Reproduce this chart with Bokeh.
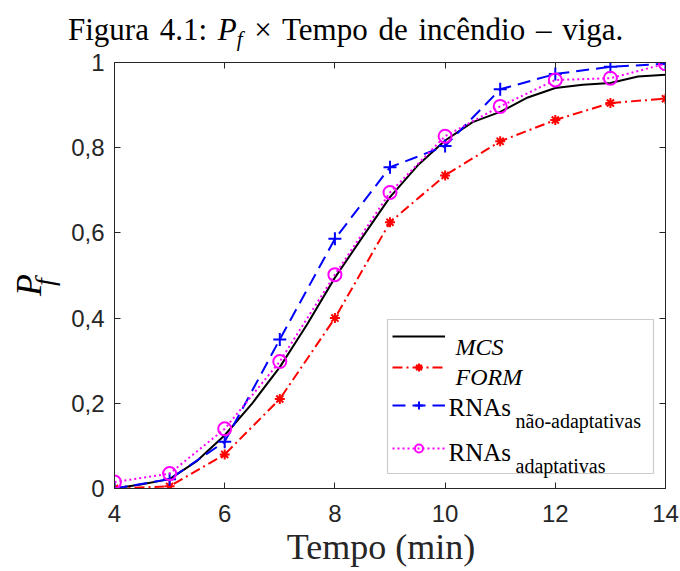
from bokeh.plotting import figure
from bokeh.models import (Label, Legend, LegendItem, LinearAxis, FixedTicker,
                          Range1d, BoxAnnotation, Div)
from bokeh.layouts import column, row
from bokeh.embed import file_html
from bokeh.resources import INLINE

# ---- data ----
t = [4, 5, 6, 7, 8, 9, 10, 11, 12, 13, 14]
form = [0.0, 0.005, 0.08, 0.21, 0.40, 0.625, 0.735, 0.815, 0.865, 0.905, 0.915]
rna_nao = [0.0, 0.022, 0.11, 0.35, 0.586, 0.754, 0.804, 0.937, 0.973, 0.99, 0.997]
rna_ad = [0.015, 0.035, 0.14, 0.298, 0.502, 0.695, 0.827, 0.897, 0.959, 0.963, 0.997]
mcs_t = [4, 4.5, 5, 5.5, 6, 6.5, 7, 7.5, 8, 8.5, 9, 9.5, 10, 10.5, 11, 11.5, 12,
         12.5, 13, 13.5, 14]
mcs = [0.0, 0.01, 0.022, 0.065, 0.125, 0.2, 0.285, 0.386, 0.495, 0.59, 0.684,
       0.758, 0.817, 0.86, 0.884, 0.918, 0.94, 0.948, 0.952, 0.967, 0.971]
x_ticks = [4, 6, 8, 10, 12, 14]
y_ticks = [0, 0.2, 0.4, 0.6, 0.8, 1.0]
y_tick_labels = ["0", "0,2", "0,4", "0,6", "0,8", "1"]

AX = "#262626"
SERIF = "Liberation Serif"
SANS = "Liberation Sans"

TITLE_H = 46
YLAB_W = 60

p = figure(width=680 - YLAB_W, height=571 - TITLE_H, output_backend="svg",
           toolbar_location=None,
           x_range=Range1d(4, 14), y_range=Range1d(0, 1),
           min_border_left=114 - YLAB_W, min_border_right=15,
           min_border_top=62 - TITLE_H, min_border_bottom=83,
           background_fill_color="white", border_fill_alpha=0)
p.grid.visible = False
p.outline_line_color = AX
p.outline_line_width = 1

def style_axis(ax, labels=True):
    ax.axis_line_color = AX
    ax.major_tick_line_color = AX
    ax.major_tick_in = 6
    ax.major_tick_out = 0
    ax.minor_tick_line_color = None
    if not labels:
        ax.major_label_text_font_size = "0px"
        ax.major_label_standoff = 0
        ax.major_label_text_color = None

p.xaxis.ticker = FixedTicker(ticks=x_ticks)
p.yaxis.ticker = FixedTicker(ticks=y_ticks)
p.yaxis.major_label_overrides = {v: s for v, s in zip(y_ticks, y_tick_labels)}
p.yaxis.major_label_overrides[1] = "1"
for ax in (p.xaxis[0], p.yaxis[0]):
    style_axis(ax)
    ax.major_label_text_font = SANS
    ax.major_label_text_font_size = "24px"
    ax.major_label_text_color = AX
p.xaxis.major_label_standoff = 16
p.yaxis.major_label_standoff = 10

p.xaxis.axis_label = "Tempo (min)\u00a0\u00a0"
p.xaxis.axis_label_text_font = SERIF
p.xaxis.axis_label_text_font_size = "36px"
p.xaxis.axis_label_text_font_style = "normal"
p.xaxis.axis_label_text_color = AX
p.xaxis.axis_label_standoff = 2

top_ax = LinearAxis(ticker=FixedTicker(ticks=x_ticks))
right_ax = LinearAxis(ticker=FixedTicker(ticks=y_ticks))
style_axis(top_ax, labels=False)
style_axis(right_ax, labels=False)
p.add_layout(top_ax, "above")
p.add_layout(right_ax, "right")

# ---- series ----
r_mcs = p.line(mcs_t, mcs, line_color="black", line_width=2)
r_form_l = p.line(t, form, line_color="#FF0000", line_width=2, line_dash="10 4 2 4")
r_form_m = p.scatter(t, form, marker="asterisk", size=10, line_color="#FF0000",
                     line_width=2)
r_nao_l = p.line(t, rna_nao, line_color="#0000FF", line_width=2, line_dash="13 7")
r_nao_m = p.scatter(t, rna_nao, marker="cross", size=13, line_color="#0000FF",
                    line_width=2)
r_ad_l = p.line(t, rna_ad, line_color="#FF00FF", line_width=2, line_dash="2 3")
r_ad_m = p.scatter(t, rna_ad, marker="circle", size=13, line_color="#FF00FF",
                   fill_color=None, line_width=2)

# ---- legend (frame in page coords: left 114, bottom 488) ----
FL, FB = 114, 488
box = BoxAnnotation(left=387 - FL, right=653 - FL, top=FB - 319, bottom=FB - 473,
                    left_units="screen", right_units="screen",
                    top_units="screen", bottom_units="screen",
                    fill_color="white", fill_alpha=1.0,
                    line_color="#555555", line_width=1.2)
p.add_layout(box)

rows = [([r_mcs], 336), ([r_form_l, r_form_m], 367), ([r_nao_l, r_nao_m], 405),
        ([r_ad_l, r_ad_m], 448)]
for rends, cy in rows:
    lg = Legend(items=[LegendItem(label=" ", renderers=rends)],
                location=(392 - FL, FB - cy - 10), orientation="vertical",
                glyph_width=53, glyph_height=20, label_height=20, label_width=0,
                label_standoff=0, label_text_font_size="1px", padding=0,
                margin=0, spacing=0, border_line_color=None,
                background_fill_alpha=0)
    p.add_layout(lg)

def lab(text, sx, sy, size, style="normal", font=SERIF, color="black"):
    p.add_layout(Label(x=sx - FL, y=FB - sy, x_units="screen", y_units="screen",
                       text=text, text_font=font, text_font_size=size,
                       text_font_style=style, text_color=color,
                       text_baseline="alphabetic", text_align="left"))

lab("MCS", 455, 346, "24px", "italic")
lab("FORM", 455, 376.7, "24px", "italic")
lab("RNAs", 448, 407.3, "25px")
lab("não-adaptativas", 515, 420, "20px")
lab("RNAs", 448, 451.7, "25px")
lab("adaptativas", 515, 465, "20px")

# ---- title (HTML text) ----
title_html = (
    '<div style="position:relative; left:68px; top:12px; white-space:nowrap; '
    "font-family:'Liberation Serif'; font-size:31px; line-height:normal; "
    'word-spacing:3px; color:black;">'
    'Figura 4.1: <i>P<sub style="font-size:21px; line-height:0; '
    'vertical-align:-6px; margin-left:0px; margin-right:1px;">f</sub></i>'
    ' × Tempo de incêndio – viga.</div>'
)
title_div = Div(text=title_html, width=680, height=TITLE_H,
                styles={"margin": "0", "padding": "0", "overflow": "visible"})

# ---- y label (rotated HTML text) ----
ylab_html = (
    '<div style="position:absolute; left:0px; top:0px; white-space:nowrap; '
    'transform-origin:0 0; transform:translate(8px, 250px) rotate(-90deg); '
    "font-family:'Liberation Serif'; font-size:36px; line-height:normal; "
    'font-style:italic; color:black;">'
    'P<sub style="font-size:28px; line-height:0; vertical-align:-13px; '
    'margin-left:-12px;">f</sub></div>'
)
ylab_div = Div(text=ylab_html, width=YLAB_W, height=571 - TITLE_H,
               styles={"margin": "0", "padding": "0", "overflow": "visible",
                       "position": "relative"})

layout = column(title_div, row(ylab_div, p, spacing=0), spacing=0)

open("out.html", "w").write(file_html(layout, INLINE))
